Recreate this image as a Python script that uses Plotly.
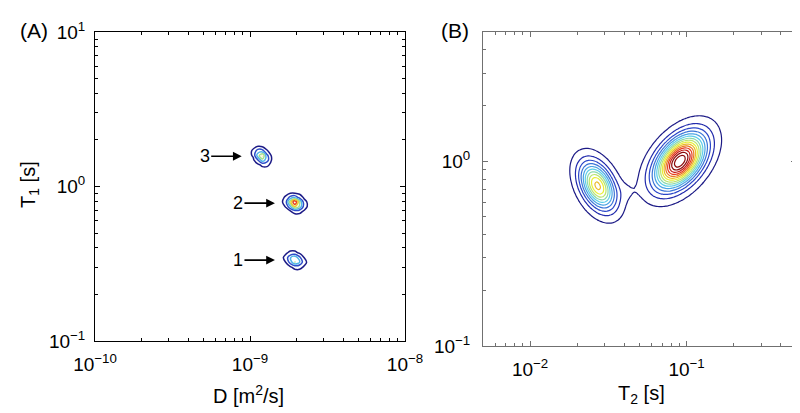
import numpy as np
import plotly.graph_objects as go

# ---------------- data ----------------
# Panel A: D-T1 map, three peaks
peak_labels_A = ["1", "2", "3"]
peak_D = [1.95e-9, 1.95e-9, 1.19e-9]          # m^2/s
peak_T1_A = [0.334, 0.78, 1.57]               # s
peak_amp_A = [0.60, 1.0, 0.68]
peak_sig_logD = [0.031, 0.030, 0.027]
peak_sig_logT1 = [0.024, 0.025, 0.028]
peak_rho_A = [-0.25, -0.2, -0.35]

# Panel B: T2-T1 map, two main peaks + weak bridge between them
peak_T2 = [0.0270, 0.0905]                    # s
peak_T1_B = [0.736, 1.0]                      # s
peak_amp_B = [0.64, 1.0]
sig_major_B = [0.094, 0.120]                  # decades
sig_minor_B = [0.060, 0.072]                  # decades
angle_B = [-54, 40]                           # deg, major axis in log-log space
bridge_T2 = [0.0415]
bridge_T1 = [0.69]
bridge_amp = [0.026]
bridge_sig = [0.05]

# axis ranges and tick labels
xrange_A = [1e-10, 1e-8]
yrange_A = [1e-1, 1e1]
xrange_B = [5e-3, 5e-1]
yrange_B = [1e-1, 5.0]
xticks_A = [1e-10, 1e-9, 1e-8]
xticktext_A = ["10<sup>−10</sup>", "10<sup>−9</sup>", "10<sup>−8</sup>"]
yticks_A = [1e-1, 1e0, 1e1]
yticktext_A = ["10<sup>−1</sup>", "10<sup>0</sup>", "10<sup>1</sup>"]
xticks_B = [1e-2, 1e-1]
xticktext_B = ["10<sup>−2</sup>", "10<sup>−1</sup>"]
yticks_B = [1e-1, 1e0]
yticktext_B = ["10<sup>−1</sup>", "10<sup>0</sup>"]

levels_A = dict(start=0.05, end=0.95, size=0.15)
levels_B = dict(start=0.035, end=0.945, size=0.065)


def minor_vals(lo, hi):
    out = []
    e0, e1 = int(np.floor(np.log10(lo))), int(np.ceil(np.log10(hi)))
    for e in range(e0, e1 + 1):
        for m in range(2, 10):
            v = m * 10.0 ** e
            if lo < v < hi:
                out.append(v)
    return out


# ---------------- surfaces ----------------
lx_A = np.arange(-10, -8 + 1e-9, 0.03)
ly_A = np.arange(-1, 1 + 1e-9, 0.03)
UA, VA = np.meshgrid(lx_A, ly_A)
ZA = np.zeros_like(UA)
for D, T1, a, sx, sy, r in zip(peak_D, peak_T1_A, peak_amp_A, peak_sig_logD, peak_sig_logT1, peak_rho_A):
    du = (UA - np.log10(D)) / sx
    dv = (VA - np.log10(T1)) / sy
    q = (du ** 2 - 2 * r * du * dv + dv ** 2) / (1 - r ** 2)
    ZA += a * np.exp(-0.5 * q)

lx_B = np.linspace(np.log10(xrange_B[0]), np.log10(xrange_B[1]), 150)
ly_B = np.linspace(np.log10(yrange_B[0]), np.log10(yrange_B[1]), 150)
UB, VB = np.meshgrid(lx_B, ly_B)
ZB = np.zeros_like(UB)
for T2, T1, a, smj, smn, ang in zip(peak_T2, peak_T1_B, peak_amp_B, sig_major_B, sig_minor_B, angle_B):
    t = np.deg2rad(ang)
    du = UB - np.log10(T2)
    dv = VB - np.log10(T1)
    p = du * np.cos(t) + dv * np.sin(t)
    s = -du * np.sin(t) + dv * np.cos(t)
    ZB += a * np.exp(-0.5 * ((p / smj) ** 2 + (s / smn) ** 2))
for T2, T1, a, sg in zip(bridge_T2, bridge_T1, bridge_amp, bridge_sig):
    ZB += a * np.exp(-0.5 * (((UB - np.log10(T2)) / sg) ** 2 + ((VB - np.log10(T1)) / (0.8 * sg)) ** 2))

jet = [[0.0, "#1c1a86"], [0.125, "#2535c4"], [0.375, "#58cdf0"],
       [0.625, "#eef02e"], [0.875, "#e6261e"], [1.0, "#8a0a0a"]]

fig = go.Figure()
fig.add_trace(go.Contour(
    x=10 ** lx_A, y=10 ** ly_A, z=ZA, xaxis="x", yaxis="y",
    autocontour=False, contours=dict(coloring="lines", showlabels=False, **levels_A),
    colorscale=jet, zmin=levels_A["start"], zmax=levels_A["end"], zauto=False,
    line=dict(width=1.5), showscale=False, hoverinfo="skip"))
fig.add_trace(go.Contour(
    x=10 ** lx_B, y=10 ** ly_B, z=ZB, xaxis="x2", yaxis="y2",
    autocontour=False, contours=dict(coloring="lines", showlabels=False, **levels_B),
    colorscale=jet, zmin=levels_B["start"], zmax=levels_B["end"], zauto=False,
    line=dict(width=1.2), showscale=False, hoverinfo="skip"))

FONT = "Liberation Sans, Arial, sans-serif"
W, H = 800, 413


def px(x):
    return x / W


def py(y):
    return 1 - y / H


def axis_common(color, rng, tv, tt):
    return dict(
        type="log", range=[np.log10(rng[0]), np.log10(rng[1])],
        tickmode="array", tickvals=tv, ticktext=tt, automargin=False,
        ticks="inside", ticklen=5, tickwidth=1, tickcolor=color,
        showline=True, linecolor=color, linewidth=1, mirror="ticks",
        showgrid=False, zeroline=False,
        tickfont=dict(family=FONT, size=19, color="black"),
        minor=dict(ticks="inside", ticklen=3, tickcolor=color, tickmode="array",
                   tickvals=minor_vals(rng[0], rng[1]), showgrid=False),
    )


xa = axis_common("black", xrange_A, xticks_A, xticktext_A)
xa.update(domain=[px(87), px(397)], anchor="y", ticklabelstandoff=6)
ya = axis_common("black", yrange_A, yticks_A, yticktext_A)
ya.update(domain=[py(333), py(24)], anchor="x", ticklabelstandoff=5)
xb = axis_common("#707070", xrange_B, xticks_B, xticktext_B)
xb.update(domain=[px(475), px(788)], anchor="y2", ticklabelstandoff=6)
yb = axis_common("#707070", yrange_B, yticks_B, yticktext_B)
yb.update(domain=[py(338), py(24)], anchor="x2", ticklabelstandoff=8)

annotations = []
for lab, D, T1 in zip(peak_labels_A, peak_D, peak_T1_A):
    annotations.append(dict(
        x=np.log10(D), y=np.log10(T1), xref="x", yref="y", text=lab,
        showarrow=True, ax=-57, ay=0, standoff=20, arrowhead=2, arrowsize=1.1,
        arrowwidth=1.6, arrowcolor="black",
        font=dict(family=FONT, size=18, color="black")))


def label(x, y, text, size=20, angle=0):
    return dict(x=px(x), y=py(y), xref="paper", yref="paper", showarrow=False,
                xanchor="center", yanchor="middle", textangle=angle, text=text,
                font=dict(family=FONT, size=size, color="black"))


annotations += [
    label(240, 386, "D [m<sup>2</sup>/s]"),
    label(21, 177, "T<sub>1</sub> [s]", angle=-90),
    label(633, 386, "T<sub>2</sub> [s]"),
    label(26, 22, "(A)", size=21),
    label(447, 22, "(B)", size=21),
]

fig.update_layout(
    width=W, height=H, autosize=False,
    margin=dict(l=0, r=0, t=0, b=0, pad=0, autoexpand=False),
    paper_bgcolor="white", plot_bgcolor="white", showlegend=False,
    xaxis=xa, yaxis=ya, xaxis2=xb, yaxis2=yb, annotations=annotations,
)

fig.write_html("out.html")
